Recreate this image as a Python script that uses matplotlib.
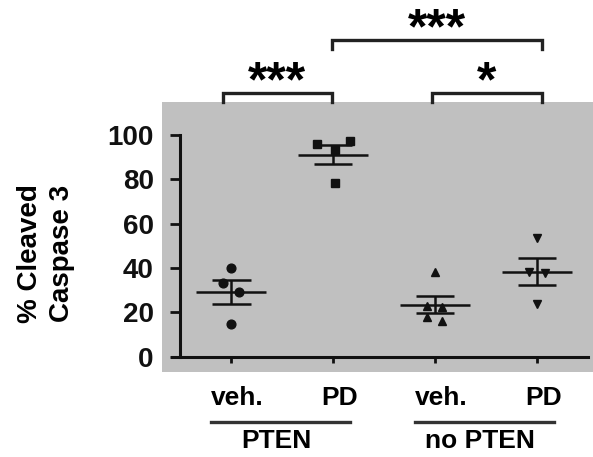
import numpy as np
import matplotlib
matplotlib.use("Agg")
import matplotlib.pyplot as plt
from matplotlib.patches import Rectangle

# % cleaved caspase 3 per sample
pten_veh = [40.1, 33.1, 29.0, 14.6]
pten_pd = [96.0, 97.1, 93.2, 78.2]
nopten_veh = [38.0, 23.0, 22.5, 18.0, 16.2]
nopten_pd = [53.4, 38.3, 37.9, 23.8]

groups = [pten_veh, pten_pd, nopten_veh, nopten_pd]
markers = ["o", "s", "^", "v"]
treatments = ["veh.", "PD", "veh.", "PD"]
genotypes = ["PTEN", "no PTEN"]

# significance brackets: (left group, right group, label, leg bottom, bar height)
comparisons = [(0, 1, "***", 115, 119), (2, 3, "*", 115, 119), (1, 3, "***", 139, 143)]
leg_shift = {0: -0.08, 1: -0.015, 2: -0.03, 3: 0.045}

plt.rcParams["font.family"] = ["Liberation Sans", "DejaVu Sans"]
plt.rcParams["font.weight"] = "bold"

fig = plt.figure(figsize=(5.93, 4.57), dpi=100)
fig.patches.append(Rectangle((162 / 593, 1 - 372 / 457), (593 - 162) / 593, (372 - 101.5) / 457,
                             transform=fig.transFigure, facecolor="#c0c0c0", edgecolor="none", zorder=-5))

ax = fig.add_axes([172 / 593, 1 - 356.7 / 457, 416 / 593, 221.7 / 457])
ax.patch.set_alpha(0)
ax.set_xlim(-0.58, 3.5)
ax.set_ylim(0, 100)

dark = "#111111"
x_off = {0: [0, -0.08, 0.08, 0], 1: [-0.16, 0.17, 0.02, 0.02],
         2: [0, -0.08, 0.07, -0.08, 0.07], 3: [0, -0.08, 0.08, 0]}
for i, (vals, m) in enumerate(zip(groups, markers)):
    vals = np.array(vals)
    xs = i + np.array(x_off[i])
    ax.plot(xs, vals, m, color=dark, ms=6.3, mec=dark, ls="none", zorder=3, clip_on=False)
    mean = vals.mean()
    sem = vals.std(ddof=1) / np.sqrt(len(vals))
    ax.hlines(mean, i - 0.34, i + 0.34, color=dark, lw=1.8, zorder=4)
    ax.hlines([mean - sem, mean + sem], i - 0.19, i + 0.19, color=dark, lw=1.8, zorder=4)
    ax.vlines(i, mean - sem, mean + sem, color=dark, lw=1.8, zorder=4)

for sp in ["top", "right"]:
    ax.spines[sp].set_visible(False)
ax.spines["left"].set_position(("data", -0.5))
ax.spines["left"].set_bounds(0, 100)
for sp in ["left", "bottom"]:
    ax.spines[sp].set_linewidth(2.2)
    ax.spines[sp].set_color(dark)

ax.set_yticks([0, 20, 40, 60, 80, 100])
ax.tick_params(axis="y", length=7, width=2, pad=12, labelsize=20, colors=dark)
ax.set_xticks(range(4))
ax.set_xticklabels([])
ax.tick_params(axis="x", length=4, width=2, colors=dark)
for lab in ax.get_yticklabels():
    lab.set_fontweight("bold")

ax.text(-0.5 - 1.32, 46.5, "% Cleaved\nCaspase 3", rotation=90, ha="center", va="center",
        fontsize=20, fontweight="bold", linespacing=1.3)

# treatment and genotype labels below the axis
for i, t in enumerate(treatments):
    ax.text(i + 0.06, -18.7, t, ha="center", va="center", fontsize=19, fontweight="bold")
for g, name in enumerate(genotypes):
    left, right = 2 * g - 0.2, 2 * g + 1.17
    ax.plot([left, right], [-29.4, -29.4], color="#333333", lw=2.4, clip_on=False)
    ax.text(2 * g + 0.44, -38, name, ha="center", va="center", fontsize=19, fontweight="bold")

# significance brackets
for a, b, label, y0, y1 in comparisons:
    xa, xb = a + leg_shift[a], b + leg_shift[b]
    ax.plot([xa, xa, xb, xb], [y0, y1, y1, y0], color="#222222", lw=2.4, clip_on=False,
            solid_joinstyle="miter")
    ax.text((xa + xb) / 2, y1 - 1.5, label, ha="center", va="baseline", fontsize=36, fontweight="bold")

fig.savefig("out.png", dpi=100)
